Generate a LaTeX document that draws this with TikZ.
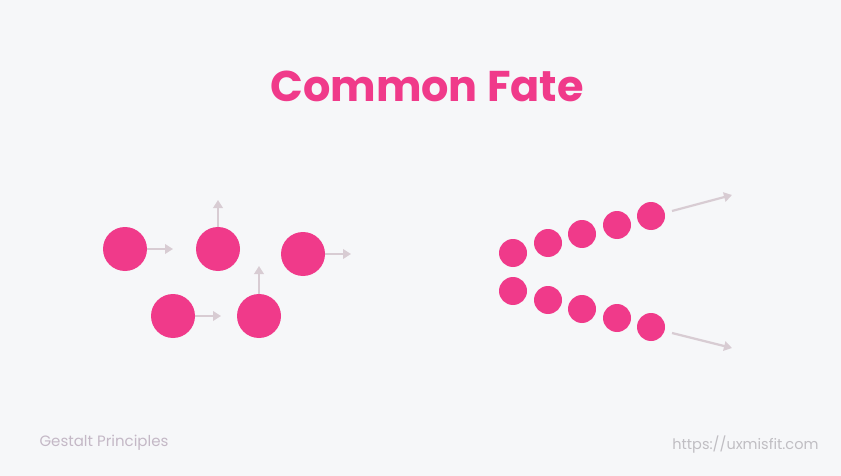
\documentclass[tikz,border=0pt]{standalone}
\usepackage{fontspec}
\setmainfont{Poppins}
\usetikzlibrary{arrows.meta}
\definecolor{bg}{HTML}{F6F7F9}
\definecolor{pinkc}{HTML}{F03A8A}
\definecolor{arr}{HTML}{D8CCD3}
\definecolor{foot}{HTML}{C4B8C6}
\definecolor{foot2}{HTML}{C0BEC3}
\tikzset{
  dotbig/.style={circle,fill=pinkc,inner sep=0pt,minimum size=44pt},
  dotsmall/.style={circle,fill=pinkc,inner sep=0pt,minimum size=28pt},
  movearrow/.style={draw=arr,line width=2.2pt,-{Triangle[length=8pt,width=9.5pt]}},
}
\begin{document}
\begin{tikzpicture}[x=1pt,y=-1pt]
\fill[bg] (0,0) rectangle (841,476);
\useasboundingbox (0,0) rectangle (841,476);
\node[text=pinkc,font=\bfseries\fontsize{43}{48}\selectfont] (title) at (427,86) {Common Fate};
% left group
\node[dotbig] (a) at (125,249) {};
\node[dotbig] (b) at (218,249) {};
\node[dotbig] (c) at (303,254) {};
\node[dotbig] (d) at (173,316) {};
\node[dotbig] (e) at (259,316) {};
\coordinate (ae) at (173,249);
\coordinate (be) at (218,200);
\coordinate (ce) at (351,254);
\coordinate (de) at (221,316);
\coordinate (ee) at (259,266);
\draw[movearrow] (a.east) -- (ae);
\draw[movearrow] (b.north) -- (be);
\draw[movearrow] (c.east) -- (ce);
\draw[movearrow] (d.east) -- (de);
\draw[movearrow] (e.north) -- (ee);
% right group
\node[dotsmall] (t1) at (513,253) {};
\node[dotsmall] (t2) at (548,243) {};
\node[dotsmall] (t3) at (582,234) {};
\node[dotsmall] (t4) at (617,225) {};
\node[dotsmall] (t5) at (651,216) {};
\node[dotsmall] (u1) at (513,291) {};
\node[dotsmall] (u2) at (548,300) {};
\node[dotsmall] (u3) at (582,309) {};
\node[dotsmall] (u4) at (617,318) {};
\node[dotsmall] (u5) at (651,327) {};
\coordinate (ts) at (672,211);
\coordinate (te) at (732,195);
\coordinate (us) at (672,333);
\coordinate (ue) at (732,348);
\draw[movearrow] (ts) -- (te);
\draw[movearrow] (us) -- (ue);
% footer
\node[anchor=west,text=foot,font=\fontsize{15}{17}\selectfont] (gp) at (36,443) {Gestalt Principles};
\node[anchor=east,text=foot2,font=\fontsize{14.5}{17}\selectfont] (url) at (822,445) {https://uxmisfit.com};
\end{tikzpicture}
\end{document}
